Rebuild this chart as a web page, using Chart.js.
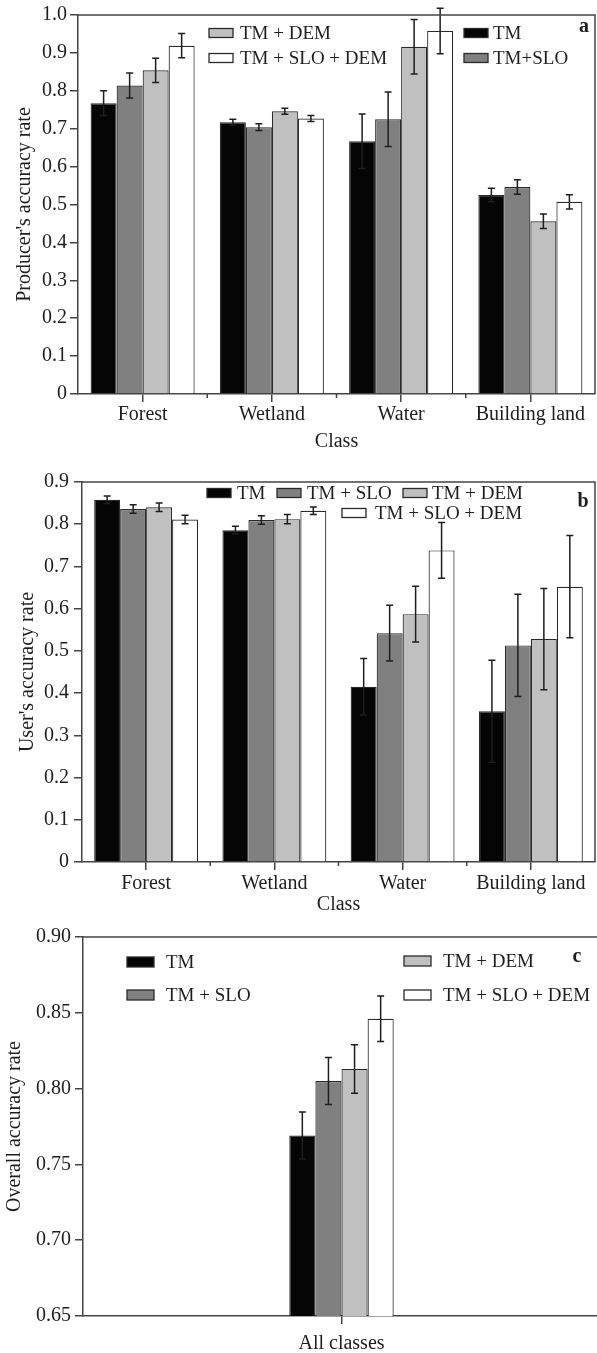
<!DOCTYPE html>
<html>
<head>
<meta charset="utf-8">
<script src="https://cdn.jsdelivr.net/npm/chart.js@4.4.1/dist/chart.umd.min.js"></script>
<style>
  html, body { margin:0; padding:0; background:#fff; overflow:hidden; }
  body { width:597px; height:1353px; position:relative; }
  .panel { position:absolute; left:0; }
  #panelA { top:0; width:597px; height:452px; }
  #panelB { top:455px; width:597px; height:460px; }
  #panelC { top:915px; width:603px; height:438px; }
</style>
</head>
<body>
<div class="panel" id="panelA"><canvas id="chartA"></canvas></div>
<div class="panel" id="panelB"><canvas id="chartB"></canvas></div>
<div class="panel" id="panelC"><canvas id="chartC"></canvas></div>
<script>
/* ===============================
   DATA
================================ */
const classes = ["Forest", "Wetland", "Water", "Building land"];
const overallClasses = ["All classes"];

// a: producer's accuracy
const producerTM       = [0.767, 0.717, 0.667, 0.525];
const producerSLO      = [0.814, 0.704, 0.725, 0.546];
const producerDEM      = [0.854, 0.746, 0.916, 0.456];
const producerSLODEM   = [0.919, 0.727, 0.958, 0.507];
const producerErrTM     = [0.033, 0.008, 0.072, 0.018];
const producerErrSLO    = [0.033, 0.009, 0.072, 0.019];
const producerErrDEM    = [0.032, 0.008, 0.072, 0.019];
const producerErrSLODEM = [0.032, 0.008, 0.060, 0.019];

// b: user's accuracy
const userTM       = [0.858, 0.786, 0.415, 0.357];
const userSLO      = [0.836, 0.810, 0.542, 0.513];
const userDEM      = [0.840, 0.812, 0.587, 0.528];
const userSLODEM   = [0.811, 0.832, 0.738, 0.652];
const userErrTM     = [0.009, 0.009, 0.067, 0.121];
const userErrSLO    = [0.010, 0.010, 0.066, 0.121];
const userErrDEM    = [0.010, 0.011, 0.066, 0.120];
const userErrSLODEM = [0.010, 0.009, 0.066, 0.121];

// c: overall accuracy
const overallTM     = [0.769];
const overallSLO    = [0.805];
const overallDEM    = [0.813];
const overallSLODEM = [0.846];
const overallErrTM     = [0.0155];
const overallErrSLO    = [0.0155];
const overallErrDEM    = [0.016];
const overallErrSLODEM = [0.015];

const labelsA = ["TM", "TM+SLO", "TM + DEM", "TM + SLO + DEM"];
const labelsBC = ["TM", "TM + SLO", "TM + DEM", "TM + SLO + DEM"];

/* ===============================
   STYLE
================================ */
const INK = "#1e1e1e";
const FILLS = ["#050505", "#808080", "#c0c0c0", "#ffffff"];

Chart.defaults.font.family = '"Liberation Serif", "Times New Roman", serif';
Chart.defaults.font.size = 20;
Chart.defaults.color = INK;

function bars(labels, values, errors) {
  return values.map((v, i) => ({
    label: labels[i],
    data: v,
    errors: errors[i],
    backgroundColor: FILLS[i],
    borderColor: "#2a2a2a",
    borderWidth: 1.2
  }));
}

/* ===============================
   PLUGINS
================================ */
const errorBars = {
  id: "errorBars",
  afterDatasetsDraw(chart) {
    const ctx = chart.ctx, y = chart.scales.y;
    ctx.save();
    ctx.strokeStyle = INK;
    ctx.lineWidth = 1.5;
    chart.data.datasets.forEach((ds, i) => {
      chart.getDatasetMeta(i).data.forEach((bar, j) => {
        const top = y.getPixelForValue(ds.data[j] + ds.errors[j]);
        const bot = y.getPixelForValue(ds.data[j] - ds.errors[j]);
        ctx.beginPath();
        ctx.moveTo(bar.x, top); ctx.lineTo(bar.x, bot);
        ctx.moveTo(bar.x - 3.5, top); ctx.lineTo(bar.x + 3.5, top);
        ctx.moveTo(bar.x - 3.5, bot); ctx.lineTo(bar.x + 3.5, bot);
        ctx.stroke();
      });
    });
    ctx.restore();
  }
};

const frame = {
  id: "frame",
  afterDraw(chart, args, opts) {
    const ctx = chart.ctx, a = chart.chartArea, x = chart.scales.x;
    ctx.save();
    ctx.strokeStyle = "#444";
    ctx.lineWidth = 1.5;
    ctx.beginPath();
    ctx.moveTo(a.left, a.top); ctx.lineTo(a.right, a.top);
    if (opts.right) { ctx.lineTo(a.right, a.bottom); }
    // short ticks between classes
    for (let i = 1; i < chart.data.labels.length; i++) {
      const bx = (x.getPixelForValue(i - 1) + x.getPixelForValue(i)) / 2;
      ctx.moveTo(bx, a.bottom); ctx.lineTo(bx, a.bottom + 4);
    }
    ctx.stroke();
    ctx.restore();
  }
};

const boxLegend = {
  id: "boxLegend",
  afterDraw(chart, args, opts) {
    const ctx = chart.ctx;
    ctx.save();
    ctx.font = '19px "Liberation Serif", "Times New Roman", serif';
    ctx.textBaseline = "middle";
    ctx.textAlign = "left";
    opts.items.forEach(it => {
      const ds = chart.data.datasets[it.ds];
      ctx.fillStyle = ds.backgroundColor;
      ctx.strokeStyle = "#2a2a2a";
      ctx.lineWidth = 1.3;
      ctx.fillRect(it.x, it.y - opts.boxH / 2, opts.boxW, opts.boxH);
      ctx.strokeRect(it.x, it.y - opts.boxH / 2, opts.boxW, opts.boxH);
      ctx.fillStyle = INK;
      ctx.fillText(ds.label, it.tx, it.y + 1);
    });
    ctx.font = 'bold 20px "Liberation Serif", "Times New Roman", serif';
    ctx.textAlign = "center";
    ctx.fillText(opts.tag.text, opts.tag.x, opts.tag.y);
    ctx.restore();
  }
};

/* ===============================
   AXES
================================ */
function axes(o) {
  return {
    x: {
      afterFit: s => { s.height = o.xHeight; },
      grid: { offset: false, drawOnChartArea: false, tickLength: 8, color: "#444", lineWidth: 1.5 },
      border: { color: "#444", width: 1.5 },
      ticks: { padding: o.xPad, maxRotation: 0, autoSkip: false, font: { size: 20 } },
      title: o.xTitle
        ? { display: true, text: o.xTitle, padding: 0, font: { size: 20, lineHeight: 1 } }
        : { display: false }
    },
    y: {
      min: o.min, max: o.max,
      afterFit: s => { s.width = o.yWidth; },
      grid: { drawOnChartArea: false, tickLength: 8, color: "#444", lineWidth: 1.5 },
      border: { color: "#444", width: 1.5 },
      ticks: {
        stepSize: o.step, padding: o.yPad, font: { size: 20 },
        callback: v => (Math.abs(v) < 1e-9 ? "0" : v.toFixed(o.digits))
      },
      title: { display: true, text: o.yTitle, padding: 0, font: { size: 20, lineHeight: 1.2 } }
    }
  };
}

/* ===============================
   CHARTS
================================ */
new Chart(document.getElementById("chartA"), {
  type: "bar",
  data: {
    labels: classes,
    datasets: bars(labelsA,
      [producerTM, producerSLO, producerDEM, producerSLODEM],
      [producerErrTM, producerErrSLO, producerErrDEM, producerErrSLODEM])
  },
  options: {
    responsive: true, maintainAspectRatio: false, animation: false,
    categoryPercentage: 0.805, barPercentage: 1.0,
    layout: { padding: { left: 13, top: 15, right: 2, bottom: 0 } },
    scales: axes({ min: 0, max: 1.0, step: 0.1, digits: 1, yWidth: 65, yPad: 3,
                   xHeight: 58, xPad: 1, xTitle: "Class", yTitle: "Producer's accuracy rate" }),
    plugins: {
      legend: { display: false }, tooltip: { enabled: false },
      frame: { right: true },
      boxLegend: {
        boxW: 24, boxH: 9,
        items: [
          { ds: 2, x: 209, y: 33, tx: 240 },
          { ds: 3, x: 209, y: 58, tx: 240 },
          { ds: 0, x: 464, y: 33, tx: 493 },
          { ds: 1, x: 464, y: 58, tx: 493 }
        ],
        tag: { text: "a", x: 584, y: 27 }
      }
    }
  },
  plugins: [errorBars, frame, boxLegend]
});

new Chart(document.getElementById("chartB"), {
  type: "bar",
  data: {
    labels: classes,
    datasets: bars(labelsBC,
      [userTM, userSLO, userDEM, userSLODEM],
      [userErrTM, userErrSLO, userErrDEM, userErrSLODEM])
  },
  options: {
    responsive: true, maintainAspectRatio: false, animation: false,
    categoryPercentage: 0.81, barPercentage: 1.0,
    layout: { padding: { left: 16, top: 27, right: 2, bottom: 0 } },
    scales: axes({ min: 0, max: 0.9, step: 0.1, digits: 1, yWidth: 66, yPad: 5,
                   xHeight: 53, xPad: 2, xTitle: "Class", yTitle: "User's accuracy rate" }),
    plugins: {
      legend: { display: false }, tooltip: { enabled: false },
      frame: { right: true },
      boxLegend: {
        boxW: 24, boxH: 9,
        items: [
          { ds: 0, x: 207, y: 38, tx: 237 },
          { ds: 1, x: 277, y: 38, tx: 307 },
          { ds: 2, x: 403, y: 38, tx: 432 },
          { ds: 3, x: 342, y: 58, tx: 375 }
        ],
        tag: { text: "b", x: 583, y: 47 }
      }
    }
  },
  plugins: [errorBars, frame, boxLegend]
});

new Chart(document.getElementById("chartC"), {
  type: "bar",
  data: {
    labels: overallClasses,
    datasets: bars(labelsBC,
      [overallTM, overallSLO, overallDEM, overallSLODEM],
      [overallErrTM, overallErrSLO, overallErrDEM, overallErrSLODEM])
  },
  options: {
    responsive: true, maintainAspectRatio: false, animation: false,
    categoryPercentage: 0.202, barPercentage: 1.0,
    layout: { padding: { left: 3, top: 22, right: 3, bottom: 0 } },
    scales: axes({ min: 0.65, max: 0.9, step: 0.05, digits: 2, yWidth: 80, yPad: 4,
                   xHeight: 37, xPad: 8, xTitle: null, yTitle: "Overall accuracy rate" }),
    plugins: {
      legend: { display: false }, tooltip: { enabled: false },
      frame: { right: false },
      boxLegend: {
        boxW: 27, boxH: 10,
        items: [
          { ds: 0, x: 127, y: 47, tx: 166 },
          { ds: 1, x: 127, y: 80, tx: 166 },
          { ds: 2, x: 404, y: 46, tx: 443 },
          { ds: 3, x: 404, y: 80, tx: 443 }
        ],
        tag: { text: "c", x: 577, y: 42 }
      }
    }
  },
  plugins: [errorBars, frame, boxLegend]
});
</script>
</body>
</html>
